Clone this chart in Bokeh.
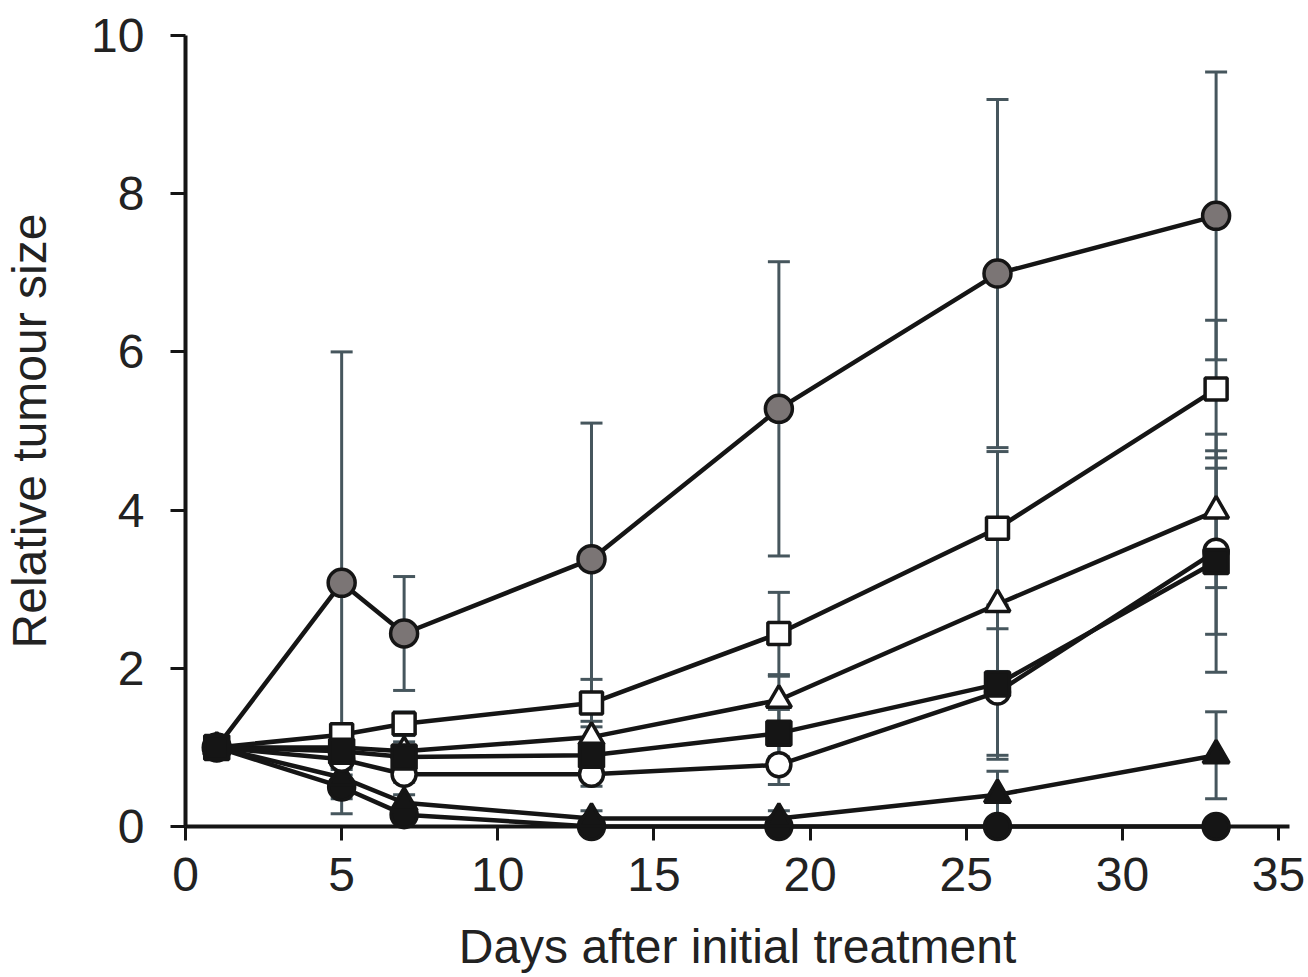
from bokeh.plotting import figure
from bokeh.models import ColumnDataSource, Whisker, TeeHead, Range1d, FixedTicker
from bokeh.embed import file_html
from bokeh.resources import INLINE

# ---- data ----
days = [1, 5, 7, 13, 19, 26, 33]

gray_circle = [1.0, 3.08, 2.44, 3.38, 5.28, 6.99, 7.72]
gray_circle_err = [0.0, 2.92, 0.72, 1.72, 1.86, 2.20, 1.82]

open_square = [1.0, 1.16, 1.30, 1.56, 2.44, 3.77, 5.53]
open_square_err = [0.0, 0.12, 0.15, 0.30, 0.52, 0.97, 0.87]

open_triangle = [1.0, 1.00, 0.95, 1.13, 1.60, 2.81, 3.99]
open_triangle_err = [0.0, 0.10, 0.12, 0.20, 0.30, 0.85, 0.97]

open_circle = [1.0, 0.85, 0.66, 0.66, 0.78, 1.70, 3.48]
open_circle_err = [0.0, 0.10, 0.10, 0.15, 0.25, 0.80, 1.05]

filled_square = [1.0, 0.95, 0.88, 0.90, 1.18, 1.80, 3.35]
filled_square_err = [0.0, 0.10, 0.10, 0.15, 0.30, 0.95, 1.40]

filled_triangle = [1.0, 0.62, 0.30, 0.10, 0.10, 0.40, 0.90]
filled_triangle_err = [0.0, 0.10, 0.10, 0.10, 0.10, 0.30, 0.55]

filled_circle = [1.0, 0.50, 0.15, 0.0, 0.0, 0.0, 0.0]
filled_circle_err = [0.0, 0.15, 0.10, 0.0, 0.0, 0.0, 0.0]

x_ticks = [0, 5, 10, 15, 20, 25, 30, 35]
y_ticks = [0, 2, 4, 6, 8, 10]

x_title = "Days after initial treatment"
y_title = "Relative tumour size"

# ---- styles ----
INK = "#151515"
ERR = "#46565d"
FONT = "Liberation Sans"

series = [
    # values, errors, marker, fill, size
    (filled_circle, filled_circle_err, "circle", INK, 26),
    (filled_triangle, filled_triangle_err, "triangle", INK, 26),
    (open_circle, open_circle_err, "circle", "white", 24),
    (open_triangle, open_triangle_err, "triangle", "white", 25),
    (open_square, open_square_err, "square", "white", 22),
    (gray_circle, gray_circle_err, "circle", "#7b7575", 27),
    (filled_square, filled_square_err, "square", INK, 24),
]

p = figure(width=1308, height=977, output_backend="svg", toolbar_location=None,
           x_range=Range1d(0, 35.35), y_range=Range1d(0, 10),
           min_border_left=185, min_border_right=19, min_border_top=35, min_border_bottom=151)
p.outline_line_color = None
p.grid.visible = False
p.background_fill_color = "white"
p.border_fill_color = "white"

sources = []
for vals, errs, marker, fill, size in series:
    src = ColumnDataSource(dict(
        x=days, y=vals,
        upper=[v + e for v, e in zip(vals, errs)],
        lower=[max(v - e, 0) for v, e in zip(vals, errs)],
    ))
    sources.append(src)
    w = Whisker(source=src, base="x", upper="upper", lower="lower",
                line_color=ERR, line_width=3,
                upper_head=TeeHead(size=22, line_color=ERR, line_width=3),
                lower_head=TeeHead(size=22, line_color=ERR, line_width=3))
    p.add_layout(w)

for (vals, errs, marker, fill, size), src in zip(series, sources):
    p.line("x", "y", source=src, line_color=INK, line_width=4.5, level="overlay")

for (vals, errs, marker, fill, size), src in zip(series, sources):
    p.scatter("x", "y", source=src, marker=marker, size=size, fill_color=fill,
              line_color=INK, line_width=3.5, level="overlay")

for ax in (p.xaxis, p.yaxis):
    ax.axis_line_color = INK
    ax.axis_line_width = 4
    ax.major_tick_line_color = INK
    ax.major_tick_line_width = 3
    ax.major_tick_in = 0
    ax.minor_tick_line_color = None
    ax.major_label_text_font = FONT
    ax.major_label_text_font_size = "48px"
    ax.major_label_text_color = "#222222"
    ax.axis_label_text_font = FONT
    ax.axis_label_text_font_size = "48px"
    ax.axis_label_text_font_style = "normal"
    ax.axis_label_text_color = "#222222"

p.xaxis.ticker = FixedTicker(ticks=x_ticks)
p.yaxis.ticker = FixedTicker(ticks=y_ticks)
p.xaxis.axis_label = x_title
p.yaxis.axis_label = y_title
p.xaxis.major_tick_out = 14
p.yaxis.major_tick_out = 15
p.xaxis.major_label_standoff = 17
p.yaxis.major_label_standoff = 26
p.xaxis.axis_label_standoff = 26
p.yaxis.axis_label_standoff = 32

open("out.html", "w").write(file_html(p, INLINE))
